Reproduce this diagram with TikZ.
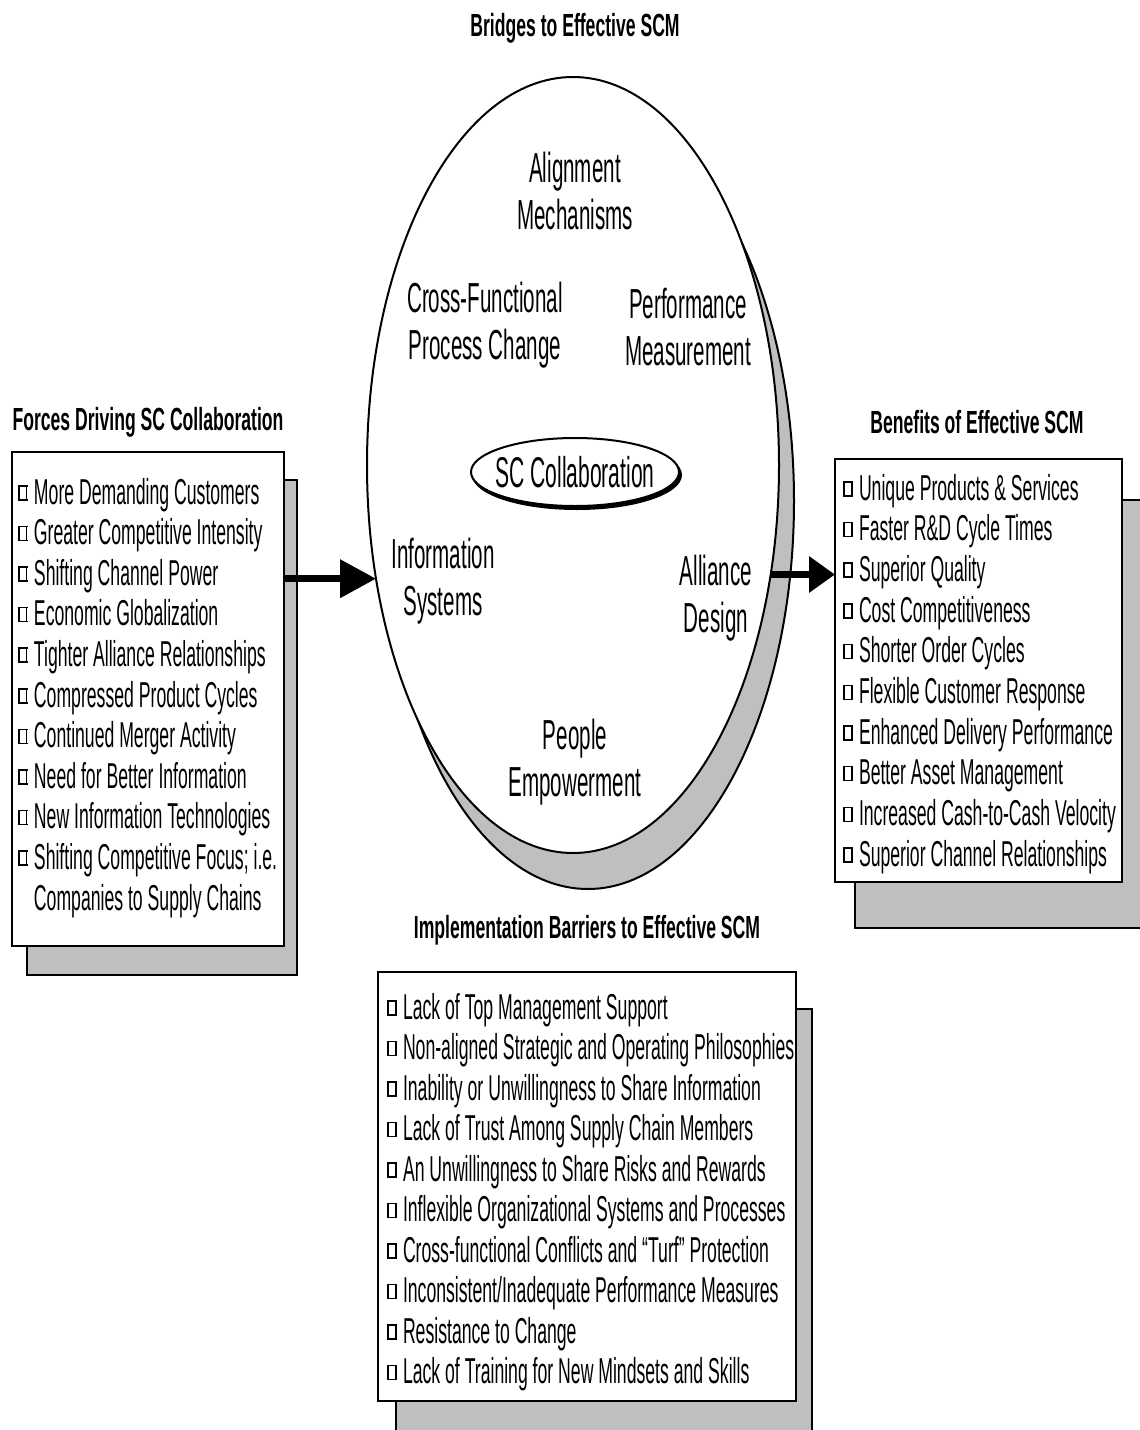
\documentclass[tikz,border=0pt]{standalone}
\usepackage{fontspec}
\setmainfont[FakeStretch=0.49]{Liberation Sans}
\newfontfamily\ttlfont[FakeStretch=0.55]{Liberation Sans}
\usetikzlibrary{shapes.geometric,arrows.meta}
\definecolor{shade}{gray}{0.75}

% hollow square bullet followed by the gap before the item text
\newcommand\sqb{\makebox[16pt][l]{\raisebox{5pt}{\fboxsep=0pt\fboxrule=1.5pt\fbox{\rule{0pt}{12.5pt}\rule{6.5pt}{0pt}}}}}

\begin{document}
\begin{tikzpicture}[x=1pt,y=-1pt,
  every node/.style={inner sep=0pt,outer sep=0pt},
  ttl/.style={font=\ttlfont\bfseries\fontsize{32}{38}\selectfont},
  itm/.style={font=\fontsize{36}{40}\selectfont,anchor=base west},
  lbl/.style={font=\fontsize{42}{47}\selectfont,align=center},
  frontbox/.style={draw,fill=white,line width=2.5pt,anchor=north west},
  backbox/.style={draw,fill=shade,line width=2pt,anchor=north west},
  bigarrow/.style={line width=7pt}]

\useasboundingbox (0,0) rectangle (1140,1430);

% titles
\node[ttl] (ttop)   at (575,28)  {Bridges to Effective SCM};
\node[ttl] (tleft)  at (148,422) {Forces Driving SC Collaboration};
\node[ttl] (tright) at (977,422) {Benefits of Effective SCM};
\node[ttl] (tbot)   at (587,930) {Implementation Barriers to Effective SCM};

% list boxes with their drop shadows
\node[backbox,minimum width=270pt,minimum height=495pt] (lboxs) at (27,480) {};
\node[frontbox,minimum width=272pt,minimum height=494pt] (lbox) at (12,452) {};
\node[backbox,minimum width=290pt,minimum height=428pt] (rboxs) at (855,500) {};
\node[frontbox,minimum width=287pt,minimum height=423pt] (rbox) at (835,459) {};
\node[backbox,minimum width=416pt,minimum height=440pt] (bboxs) at (396,1009) {};
\node[frontbox,minimum width=418pt,minimum height=429pt] (bbox) at (378,972) {};

% forces
\foreach \t [count=\i from 0] in {More Demanding Customers,Greater Competitive Intensity,
  Shifting Channel Power,Economic Globalization,Tighter Alliance Relationships,
  Compressed Product Cycles,Continued Merger Activity,Need for Better Information,
  New Information Technologies,Shifting Competitive Focus; i.e.}
  \node[itm] (f\i) at (18,504+40.6*\i) {\sqb\t};
\node[itm] (f10) at (34,910) {Companies to Supply Chains};

% benefits
\foreach \t [count=\i from 0] in {Unique Products \& Services,Faster R\&D Cycle Times,
  Superior Quality,Cost Competitiveness,Shorter Order Cycles,Flexible Customer Response,
  Enhanced Delivery Performance,Better Asset Management,Increased Cash-to-Cash Velocity,
  Superior Channel Relationships}
  \node[itm] (b\i) at (843,500+40.7*\i) {\sqb\t};

% barriers
\foreach \t [count=\i from 0] in {Lack of Top Management Support,
  Non-aligned Strategic and Operating Philosophies,
  Inability or Unwillingness to Share Information,
  Lack of Trust Among Supply Chain Members,
  An Unwillingness to Share Risks and Rewards,
  Inflexible Organizational Systems and Processes,
  Cross-functional Conflicts and “Turf” Protection,
  Inconsistent/Inadequate Performance Measures,
  Resistance to Change,
  Lack of Training for New Mindsets and Skills}
  \node[itm] (i\i) at (387,1019+40.5*\i) {\sqb\t};

% the bridge ellipse with its shadow
\node[ellipse,draw,fill=shade,line width=2pt,minimum width=412pt,minimum height=776pt] (bridges) at (588,501) {};
\node[ellipse,draw,fill=white,line width=2pt,minimum width=412pt,minimum height=776pt] (bridge) at (573,465) {};

% inner ellipse
\node[ellipse,fill=black,minimum width=210pt,minimum height=70pt] (sccs) at (577,475) {};
\node[ellipse,draw,fill=white,line width=2pt,minimum width=208pt,minimum height=68pt] (scc) at (575,472) {};
\node[font=\fontsize{43}{48}\selectfont] (scct) at (scc.center) {SC Collaboration};

% bridge labels
\node[lbl] (align) at (575,191) {Alignment\\Mechanisms};
\node[lbl] (cross) at (485,325) {Cross-Functional\\Process Change};
\node[lbl] (perf)  at (688,327) {Performance\\Measurement};
\node[lbl] (info)  at (443,581) {Information\\Systems};
\node[lbl] (alli)  at (716,598) {Alliance\\Design};
\node[lbl] (people) at (575,762) {People\\Empowerment};

% flows
\draw[bigarrow,-{Triangle[length=36pt,width=37pt]}] (lbox.east |- bridge.210) -- (bridge.210);
\draw[bigarrow,-{Triangle[length=26pt,width=35pt]}] (bridge.-29) -- (rbox.west |- bridge.-29);

\end{tikzpicture}
\end{document}
